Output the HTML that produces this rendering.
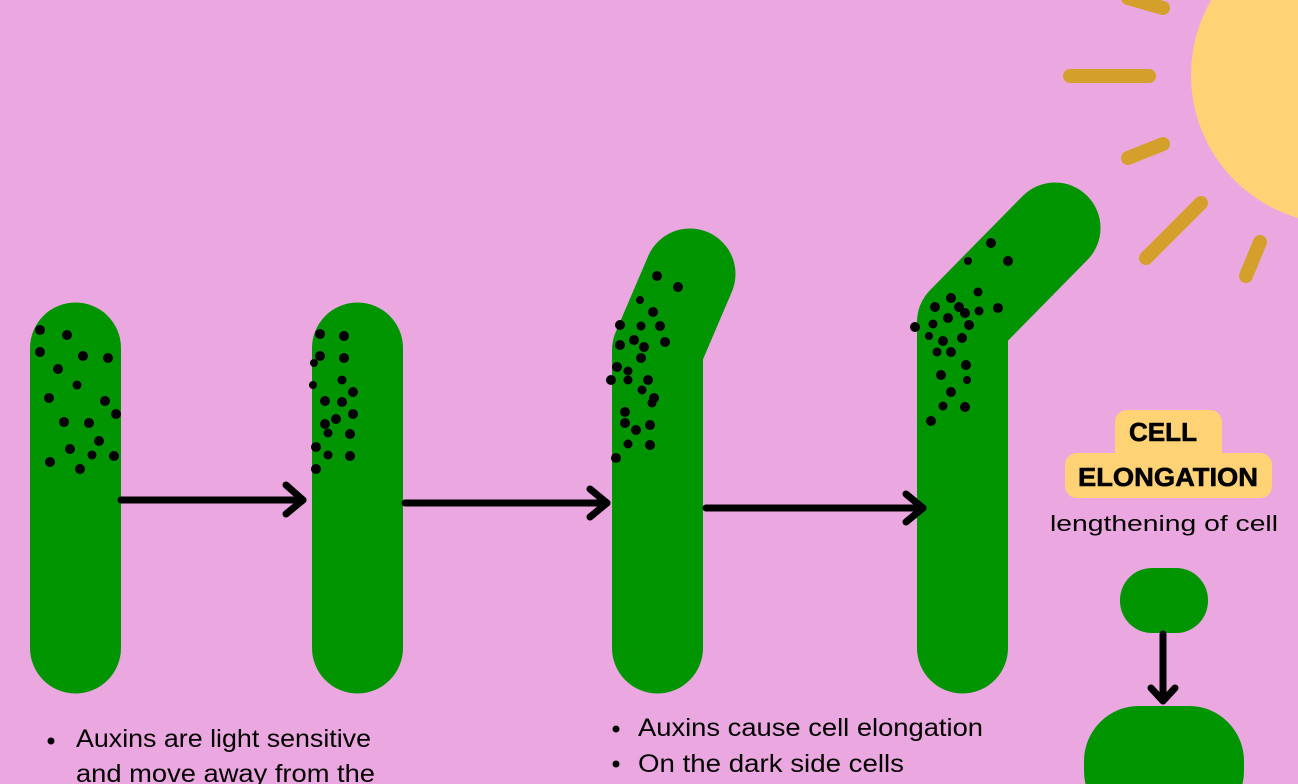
<!DOCTYPE html>
<html><head><meta charset="utf-8"><style>
html,body{margin:0;padding:0;background:#eba8e0;width:1298px;height:784px;overflow:hidden;}
svg{display:block}
text{font-family:"Liberation Sans",sans-serif;}
</style></head><body>
<svg width="1298" height="784" viewBox="0 0 1298 784" xmlns="http://www.w3.org/2000/svg">
<rect width="1298" height="784" fill="#eba8e0"/>
<circle cx="1340" cy="75" r="149" fill="#fed275"/>
<g stroke="#d4a02b" stroke-width="14" stroke-linecap="round" fill="none">
<line x1="1128" y1="-2" x2="1163" y2="8"/>
<line x1="1070" y1="76" x2="1149" y2="76"/>
<line x1="1128" y1="158" x2="1163" y2="144"/>
<line x1="1146" y1="258" x2="1201" y2="203"/>
<line x1="1246" y1="276" x2="1260" y2="242"/>
</g>
<g stroke="#009400" stroke-width="91" stroke-linecap="round" stroke-linejoin="round" fill="none">
<line x1="75.5" y1="348" x2="75.5" y2="648"/>
<line x1="357.5" y1="348" x2="357.5" y2="648"/>
<polyline points="657.5,648 657.5,350 690,274"/>
<polyline points="962.5,648 962.5,322 1055,228"/>
</g>
<rect x="1120" y="568" width="88" height="65" rx="32" fill="#009400"/>
<rect x="1084" y="706" width="160" height="120" rx="55" fill="#009400"/>
<g fill="#000">
<circle cx="40" cy="330" r="5"/><circle cx="67" cy="335" r="5"/><circle cx="40" cy="352" r="5"/><circle cx="83" cy="356" r="5"/><circle cx="108" cy="358" r="5"/><circle cx="58" cy="369" r="5"/><circle cx="77" cy="385" r="4.5"/><circle cx="49" cy="398" r="5"/><circle cx="105" cy="401" r="5"/><circle cx="116" cy="414" r="5"/><circle cx="64" cy="422" r="5"/><circle cx="89" cy="423" r="5"/><circle cx="99" cy="441" r="5"/><circle cx="70" cy="449" r="5"/><circle cx="92" cy="455" r="4.5"/><circle cx="114" cy="456" r="5"/><circle cx="50" cy="462" r="5"/><circle cx="80" cy="469" r="5"/>
<circle cx="320" cy="334" r="5"/><circle cx="344" cy="336" r="5"/><circle cx="320" cy="356" r="5"/><circle cx="344" cy="358" r="5"/><circle cx="314" cy="363" r="4"/><circle cx="342" cy="380" r="4.5"/><circle cx="313" cy="385" r="4"/><circle cx="353" cy="392" r="5"/><circle cx="325" cy="401" r="5"/><circle cx="342" cy="402" r="5"/><circle cx="353" cy="414" r="5"/><circle cx="336" cy="419" r="5"/><circle cx="325" cy="424" r="5"/><circle cx="328" cy="433" r="4.5"/><circle cx="350" cy="434" r="5"/><circle cx="316" cy="447" r="5"/><circle cx="328" cy="455" r="4.5"/><circle cx="350" cy="456" r="5"/><circle cx="316" cy="469" r="5"/>
<circle cx="657" cy="276" r="5"/><circle cx="678" cy="287" r="5"/><circle cx="640" cy="300" r="4"/><circle cx="653" cy="312" r="5"/><circle cx="620" cy="325" r="5"/><circle cx="641" cy="326" r="4.5"/><circle cx="660" cy="326" r="5"/><circle cx="665" cy="342" r="5"/><circle cx="620" cy="345" r="5"/><circle cx="634" cy="340" r="5"/><circle cx="644" cy="347" r="5"/><circle cx="641" cy="358" r="5"/><circle cx="617" cy="367" r="5"/><circle cx="628" cy="371" r="4.5"/><circle cx="611" cy="380" r="5"/><circle cx="628" cy="380" r="4.5"/><circle cx="648" cy="380" r="5"/><circle cx="642" cy="390" r="4.5"/><circle cx="654" cy="398" r="5"/><circle cx="625" cy="412" r="5"/><circle cx="652" cy="403" r="4.5"/><circle cx="625" cy="423" r="5"/><circle cx="636" cy="430" r="5"/><circle cx="650" cy="425" r="5"/><circle cx="628" cy="444" r="4.5"/><circle cx="650" cy="445" r="5"/><circle cx="616" cy="458" r="5"/>
<circle cx="991" cy="243" r="5"/><circle cx="968" cy="261" r="4"/><circle cx="1008" cy="261" r="5"/><circle cx="978" cy="292" r="4.5"/><circle cx="951" cy="298" r="5"/><circle cx="935" cy="307" r="5"/><circle cx="959" cy="307" r="5"/><circle cx="948" cy="318" r="5"/><circle cx="965" cy="313" r="5"/><circle cx="979" cy="311" r="4.5"/><circle cx="998" cy="308" r="5"/><circle cx="915" cy="327" r="5"/><circle cx="933" cy="324" r="4.5"/><circle cx="969" cy="325" r="5"/><circle cx="943" cy="341" r="5"/><circle cx="962" cy="338" r="5"/><circle cx="929" cy="336" r="4"/><circle cx="937" cy="352" r="4.5"/><circle cx="951" cy="352" r="5"/><circle cx="966" cy="365" r="5"/><circle cx="941" cy="375" r="5"/><circle cx="967" cy="380" r="4"/><circle cx="931" cy="421" r="5"/><circle cx="943" cy="406" r="4.5"/><circle cx="965" cy="407" r="5"/><circle cx="951" cy="392" r="5"/>
</g>
<g stroke="#000" stroke-width="7" stroke-linecap="round" stroke-linejoin="round" fill="none">
<line x1="121" y1="500" x2="303" y2="500"/><polyline points="286,485 303,500 286,514"/>
<line x1="405" y1="503" x2="607" y2="503"/><polyline points="590,489 607,503 590,517"/>
<line x1="706" y1="508" x2="923" y2="508"/><polyline points="906,494 923,508 906,522"/>
<line x1="1163" y1="634" x2="1163" y2="700"/><polyline points="1151,688 1163,701 1175,688"/>
</g>
<g fill="#fed275">
<rect x="1115" y="410" width="107" height="60" rx="12"/>
<rect x="1065" y="453" width="207" height="45" rx="12"/>
</g>
<text x="1163" y="441" text-anchor="middle" font-size="26" font-weight="bold" fill="#000" textLength="68" lengthAdjust="spacingAndGlyphs" stroke="#000" stroke-width="0.6">CELL</text>
<text x="1168" y="486" text-anchor="middle" font-size="26" font-weight="bold" fill="#000" textLength="180" lengthAdjust="spacingAndGlyphs" stroke="#000" stroke-width="0.6">ELONGATION</text>
<text x="1050" y="531" font-size="22" fill="#000" textLength="228" lengthAdjust="spacingAndGlyphs">lengthening of cell</text>
<g fill="#000">
<circle cx="51" cy="741" r="3.5"/><circle cx="616" cy="729" r="3.5"/><circle cx="616" cy="764" r="3.5"/>
</g>
<g font-size="25" fill="#000">
<text x="76" y="747" textLength="295" lengthAdjust="spacingAndGlyphs">Auxins are light sensitive</text>
<text x="76" y="782" textLength="299" lengthAdjust="spacingAndGlyphs">and move away from the</text>
<text x="638" y="736" textLength="345" lengthAdjust="spacingAndGlyphs">Auxins cause cell elongation</text>
<text x="638" y="772" textLength="266" lengthAdjust="spacingAndGlyphs">On the dark side cells</text>
</g>
</svg>
</body></html>
